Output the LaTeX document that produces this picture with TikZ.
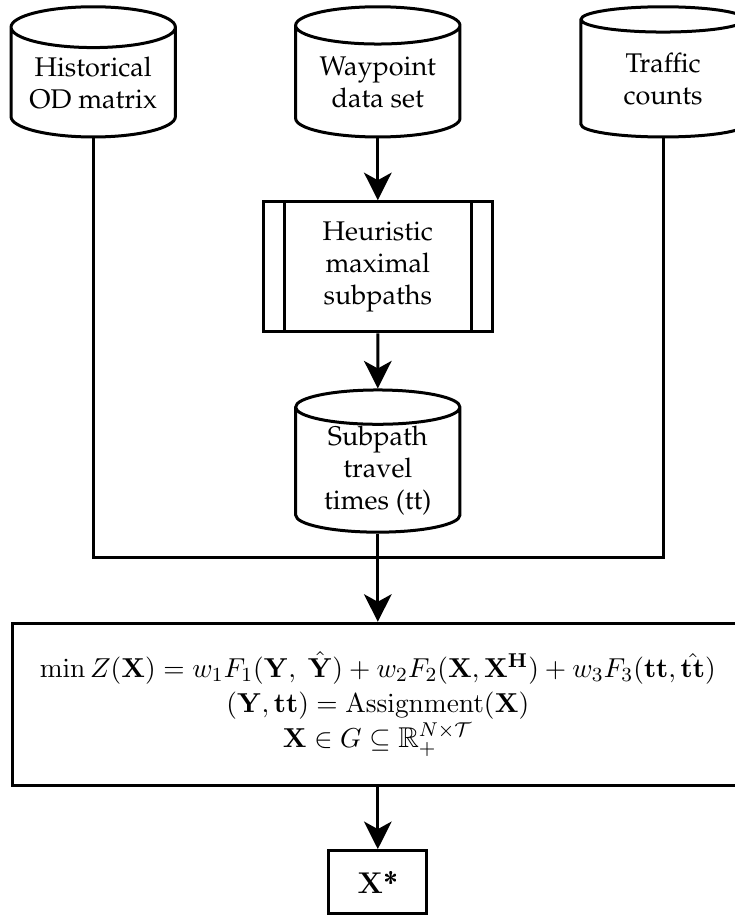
\documentclass[tikz,border=0pt]{standalone}
\usepackage[T1]{fontenc}
\usepackage{amsmath,amssymb}
\renewcommand{\rmdefault}{ppl}
\usetikzlibrary{shapes.geometric,arrows.meta}

\tikzset{
	base/.style={draw, line width=1.2pt, align=center, font=\fontsize{10.8}{12.8}\selectfont},
	database/.style={base, cylinder, shape border rotate=90, aspect=0.32,
		minimum width=2.31cm, minimum height=1.83cm, inner sep=0pt, anchor=shape center},
	process/.style={base, rectangle, minimum width=3.22cm, minimum height=1.83cm},
	opbox/.style={base, rectangle, minimum width=10.26cm, minimum height=2.28cm,
		inner xsep=0pt, font=\fontsize{11.45}{14}\selectfont},
	result/.style={base, rectangle, minimum width=1.38cm, minimum height=0.89cm,
		font=\fontsize{11.6}{13.6}\selectfont},
	flow/.style={line width=1.2pt, -{Stealth[length=11pt, width=11pt, inset=3pt]}},
	link/.style={line width=1.2pt}
}

\begin{document}
\begin{tikzpicture}

\useasboundingbox (0,0) rectangle (10.32,-12.86);

% Datos de entrada
\node[database] (hist) at (1.31,-1.01) {Historical\\OD matrix};
\node[database] (waypt) at (5.31,-1.01) {Waypoint\\data set};
\node[database] (traffic) at (9.32,-1.01) {Traffic\\counts};

% Subtrayectorias
\node[process] (heur) at (5.31,-3.75) {Heuristic\\maximal\\subpaths};
\foreach \side/\dx in {west/0.32, east/-0.32}
	\draw[link] ([xshift=\dx cm]heur.north \side) -- ([xshift=\dx cm]heur.south \side);

\node[database] (sub) at (5.31,-6.48) {Subpath\\travel\\times (tt)};

% Problema de optimizacion
\coordinate (join) at (5.31,-7.84);
\node[opbox] (opt) at (5.31,-9.90) {%
	$\min Z(\mathbf{X}) = w_1F_1(\mathbf{Y},\ \hat{\mathbf{Y}}) + w_2F_2(\mathbf{X},\mathbf{X}^{\mathbf{H}}) + w_3F_3(\mathbf{tt},\hat{\mathbf{tt}})$\\
	$(\mathbf{Y},\mathbf{tt}) = \mathrm{Assignment}(\mathbf{X})$\\
	$\mathbf{X} \in G \subseteq \mathbb{R}_+^{N\times\mathcal{T}}$};

\node[result] (xstar) at (5.31,-12.40) {$\mathbf{X}$\textnormal{\fontfamily{cmr}\bfseries *}};

\draw[flow] (waypt) -- (heur);
\draw[flow] (heur) -- (sub);
\draw[link] (hist.south) |- (join) -| (traffic.south);
\draw[flow] (sub) -- (opt);
\draw[flow] (opt) -- (xstar);

\end{tikzpicture}
\end{document}
